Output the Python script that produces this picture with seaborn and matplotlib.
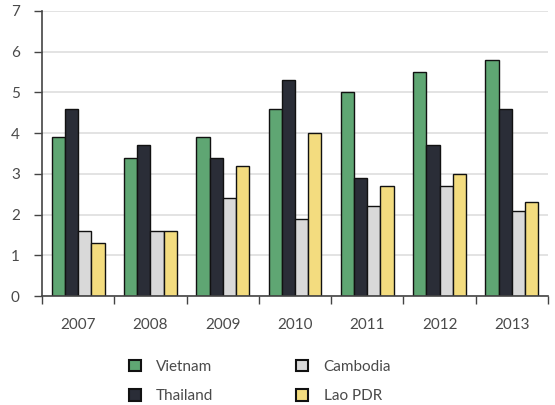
import matplotlib
matplotlib.use("Agg")
import matplotlib.pyplot as plt
import seaborn as sns
import pandas as pd
import numpy as np
from matplotlib.patches import Patch

years = ["2007", "2008", "2009", "2010", "2011", "2012", "2013"]
countries = ["Vietnam", "Thailand", "Cambodia", "Lao PDR"]
vietnam = [3.9, 3.4, 3.9, 4.6, 5.0, 5.5, 5.8]
thailand = [4.6, 3.7, 3.4, 5.3, 2.9, 3.7, 4.6]
cambodia = [1.6, 1.6, 2.4, 1.9, 2.2, 2.7, 2.1]
lao = [1.3, 1.6, 3.2, 4.0, 2.7, 3.0, 2.3]
yticks = [0, 1, 2, 3, 4, 5, 6, 7]

colors = ["#5fa673", "#2a2d37", "#d9d9d9", "#f3dc7f"]

rows = []
for name, vals in zip(countries, [vietnam, thailand, cambodia, lao]):
    for y, v in zip(years, vals):
        rows.append({"year": y, "country": name, "value": v})
df = pd.DataFrame(rows)

sns.set_style("white")
plt.rcParams["font.family"] = ["Lato", "DejaVu Sans"]
text_color = "#4a4a4a"

fig = plt.figure(figsize=(5.55, 4.05), dpi=100)
ax = fig.add_axes([42/555, 109/405, 506/555, 285/405])

sns.barplot(data=df, x="year", y="value", hue="country", hue_order=countries,
            palette=colors, width=0.73, edgecolor="#111111", linewidth=1.0,
            ax=ax, legend=False, saturation=1)

ax.set_ylim(0, 7)
ax.set_xlim(-0.5, len(years) - 0.5)
ax.set_yticks(yticks)
ax.yaxis.grid(True, color="#dedede", linewidth=1.2)
ax.set_axisbelow(True)
ax.set_xlabel("")
ax.set_ylabel("")
for s in ["top", "right"]:
    ax.spines[s].set_visible(False)
for s in ["left", "bottom"]:
    ax.spines[s].set_color("#444444")
    ax.spines[s].set_linewidth(1.2)

ax.tick_params(axis="y", length=6, width=1, color="#444444", labelsize=11,
               labelcolor=text_color, pad=10, left=True)
ax.tick_params(axis="x", which="major", length=0, labelsize=11,
               labelcolor=text_color, pad=16)
ax.set_xticks(np.arange(-0.5, len(years), 1), minor=True)
ax.tick_params(axis="x", which="minor", length=6, width=1, color="#444444",
               direction="out", bottom=True)

handles = [Patch(facecolor=c, edgecolor="#111111", linewidth=1.5) for c in colors]
fig.legend(handles, countries, ncol=2, loc="upper left",
           bbox_to_anchor=(115/555, 1 - 346/405), frameon=False,
           handlelength=0.8, handleheight=0.8, handletextpad=1.0,
           columnspacing=5.4, labelspacing=1.0, fontsize=11,
           labelcolor=text_color)

fig.savefig("out.png", dpi=100)
